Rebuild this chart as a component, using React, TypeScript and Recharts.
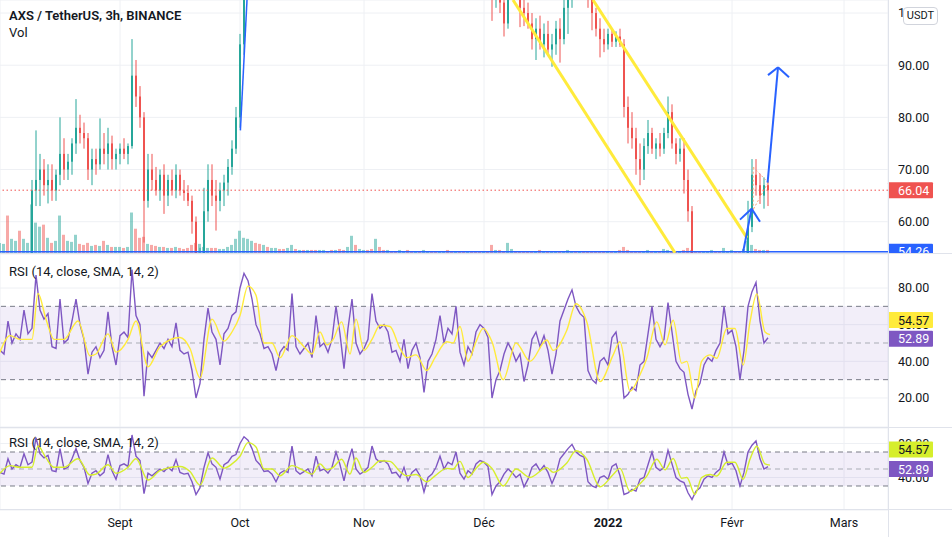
import React from 'react';
import {
  ComposedChart, LineChart, Line, Bar, XAxis, YAxis, CartesianGrid,
  ReferenceLine, ReferenceArea, Cell,
} from 'recharts';

// ---------- data ----------
// [day index (0 = 2 Aug), open, high, low, close] ; daily candles
const candles: [number, number, number, number, number][] = [
  [0,44,47,43,46],[1,46,49,45,48],[2,48,50,46,47],[3,47,50,45,49],[4,49,52,47,51],[5,51,53,48,50],[6,50,53,49,52],[7,52,53.5,50,53],
  [8,52,68,51,66],[9,66,77.5,63,68],[10,68,73,63,70],[11,70,72,65,67],[12,67,71,63.5,68],[13,68,71,64,66],[14,66,70,64,69],[15,69,80,67,73],
  [16,73,76,68,70],[17,70,73,68,71.5],[18,71.5,76,69,75],[19,75,83.5,73,78],[20,78,80.5,75,77],[21,77,79,74,76],[22,76,77,68,70],[23,70,74,67,72],
  [24,72,74,69,71],[25,71,79.8,70,74],[26,74,77,71,73],[27,73,78,70,75],[28,75,76.5,70,72],[29,72,74,70,73],[30,73,75,71,74],[31,74,76,72,73],
  [32,73,75,71,74.5],[33,74.5,95,74,88],[34,88,91,82,84],[35,84,86,78,80],[36,80,81,56,64],[37,64,73,62.7,70],[38,70,73,66,68],[39,68,70.5,65,66],
  [40,66,70,64,69],[41,69,71,61.5,65],[42,65,69,63,68],[43,68,70,65,66],[44,66,71,64.5,69],[45,69,70,65,66],[46,66,68,64,65.5],[47,65.5,67,63,64],
  [48,64,65,57.7,60],[49,60,61,50,52],[50,52,55,49,53],[51,53,66.5,52,62],[52,62,71,60,68],[53,68,71,63,65],[54,65,68,58.3,64],[55,64,67.5,62,66],
  [56,66,69,63,67.5],[57,67.5,72,65,70.5],[58,70.5,75.6,69,74],[59,74,82,73,80],[60,80,96,78,94],[61,94,110,92,108],
  [123,105,108,98.5,103],[124,103,109,101,107],[125,107,110,100,102],[126,102,104,95.5,98],[127,98,108,97,106],[128,106,112,104,110],[129,110,112,103,104],
  [130,104,106,97.3,101],[131,101,103,97.5,100],[132,100,102,97,98],[133,98,100,93,95],[134,95,99,91,97],[135,97,99.5,93,94],[136,94,98,91.5,96],[137,96,98.5,92,93],
  [138,93,96,89.7,94],[139,94,98.5,92,97],[140,97,99,90.5,95],[141,95,103,94,101],[142,101,105,96,103],[143,103,110,101,108],[144,108,112,104,106],
  [145,106,110,103,108],[146,108,111,104,105],[147,105,107,101,103],[148,103,104,96.7,100],[149,100,101,95.5,97],[150,97,99,91.5,95],[151,95,97,92.5,94],
  [152,94,97,93,96],[153,96,97,93.5,94.5],[154,94.5,96.5,93.5,95.5],[155,95.5,97,93.5,94],[156,94,95,80,82],[157,82,84,75,78],[158,78,81,74,76],[159,76,78,69,72],
  [160,72,75,67,70],[161,70,76,68,74.5],[162,74.5,79.5,73,77],[163,77,78,73,74],[164,74,76,72,75],[165,75,77,72.5,74],[166,74,78,73,77],[167,77,84,76,81],
  [168,81,82.5,74,75],[169,75,76,71,73],[170,73,76,71.5,74],[171,74,76,65.4,68],[172,68,70,60,62],[173,62,63,50,52],
  [174,52,53,46,48],[175,48,51,45,47],[176,47,50,44,49],[177,49,52,47,50],[178,50,53,48,51],[179,51,53.5,47,48],[180,48,50,45,46],[181,46,49,44,48],
  [182,48,51,46,50],[183,50,53,48,52],[184,52,53.5,49,50],[185,50,52,47,49],[186,49,53,48,52.5],[187,52.5,64,52,59],[188,59,72,58,69],[189,69,72,65,67],
  [190,67,69.2,63.4,65],[191,65,68.5,62.5,67],[192,67,68,63,66.04],
];

// daily volume (k AXS), index = day
const volumes: number[] = [
  10,9,37,14,12,22,14,10,48,30, 26,28,15,10,12,37,18,12,11,18,
  9,8,10,7,8,7,12,8,6,6, 6,5,6,40,24,15,16,9,8,7,
  6,6,5,5,6,5,4,5,8,10, 9,6,5,5,5,4,4,6,8,14,
  22,15,14,12,10,9,8,6,5,5, 4,4,5,8,4,3,3,3,3,3,
  3,3,2,3,3,4,3,6,17,8, 4,3,3,4,14,6,3,3,2,2,
  3,2,3,2,2,2,3,2,2,2, 2,2,3,2,2,2,2,2,2,2,
  2,2,2,8,3,3,2,10,4,2, 2,2,2,2,2,3,2,2,2,2,
  2,2,3,2,2,2,2,2,2,2, 2,2,2,2,2,3,6,3,2,2,
  2,2,3,2,2,2,4,3,2,2, 2,3,5,3,2,2,2,2,3,2,
  2,5,2,3,2,2,4,12,8,4, 3,3,3,
];
// volume direction for the days whose candles are above the visible range (days 62..122)
const hiddenVolumeDir = 'uudduduudduudududduuddudduuduudduddudduudduduudduudduddudddu';

// RSI(14), index = day
const rsi: number[] = [
  46,44,62,50,55,52,68,55,58,87, 68,63,66,48,47,74,50,52,62,74,
  60,52,33,45,48,42,46,67,48,38, 54,56,53,90,65,60,21,45,42,46,
  50,47,52,48,61,46,44,45,35,20, 28,52,69,56,52,38,55,58,65,67,
  80,88,84,74,60,55,47,48,44,35, 45,48,46,77,48,44,47,50,42,65,
  48,50,45,52,70,55,36,58,74,50, 44,47,52,77,62,58,60,56,45,46,
  40,52,36,46,50,42,23,40,44,52, 65,50,58,55,70,45,38,48,44,56,
  60,58,53,20,30,35,44,50,46,40, 44,29,38,52,56,48,54,46,33,44,
  62,68,74,79,70,66,64,35,30,28, 40,42,38,53,56,42,20,22,26,24,
  38,40,55,70,52,48,52,72,56,40, 36,34,22,14,24,28,38,42,40,46,
  50,70,55,57,48,30,46,70,78,83, 62,50,52.89,
];

// SMA(14) of RSI: [day, value]
const smaPoints: [number, number][] = [
  [0,45],[2.5,54],[5,52],[8,52],[9.5,77],[11.5,63],[13.5,52],[16,52],[19.5,62],[22.5,43],[24,44],[27,55],[29,45],[32,52],[34,62],
  [37,37],[40,48],[45,53],[47.5,47],[50,31],[53,63],[56,51],[58,56],[60,65],[62,81],[64,76],[66,50],[68,50],[70,42],[73,54],[76,48],
  [78,44],[80,56],[81.7,49],[83.3,52],[85.4,61.5],[87.5,44],[89,63],[91,46],[93,52],[95,59.7],[97.5,59],[100,47],[101.7,42],[104,43.5],
  [106.7,35],[108.75,42],[111.7,50.7],[113.3,50],[115,59],[117,40],[119,50.7],[120.8,58],[123,50.7],[125.8,30],[129,50],[132.5,40],
  [136.7,51.6],[138.3,46],[141.7,57],[144,71.4],[146.7,61.5],[150,29],[153.3,43.5],[155,50.7],[157.5,23.7],[160,32.7],[161.7,41.7],
  [164.2,61.5],[166.25,49],[168.3,62.4],[170.4,39],[171.7,40],[173.75,20],[175.4,40],[177.5,43.5],[179.2,41.7],[181.7,57.9],
  [183.75,57.9],[185.8,38],[187.5,61.5],[189.2,76.8],[191.25,56],[192.5,54.57],
];

const monthTicks = [30, 60, 91, 121, 152, 183, 211];
const monthLabels = ['Sept', 'Oct', 'Nov', 'Déc', '2022', 'Févr', 'Mars'];
const priceTicks = [60, 70, 80, 90, 100];
const rsiTicks1 = [20, 40, 60, 80];
const rsiTicks2 = [40, 80];
const lastPrice = 66.04;
const lineLevel = 54.26;
const lastRsi = 52.89;
const lastSma = 54.57;

// drawings (day, price)
const channelUpper: [number, number][] = [[148.25, 102.5], [186.75, 56.9]];
const channelLower: [number, number][] = [[128.25, 102.5], [168.75, 54.04]];
const octLine: [number, number][] = [[60.1, 77.5], [61.75, 102.5]];
const smallArrow: [number, number][] = [[185.8, 54.3], [187.9, 62.5]];
const smallArrowHead: [number, number][] = [[185, 60.4], [187.9, 62.5], [190, 60.0]];
const bigArrow: [number, number][] = [[191.9, 67.5], [194.5, 89.6]];
const bigArrowHead: [number, number][] = [[192, 88.1], [194.5, 89.6], [197.25, 87.7]];
const pennant: [number, number][] = [[188.3, 70.5], [192, 67.5], [188.3, 62.3]];

// ---------- styling ----------
const FONT = "Roboto, 'Noto Sans', sans-serif";
const UP = '#26A69A';
const DOWN = '#EF5350';
const TEXT = '#131722';
const GRID = '#EEF0F4';
const BORDER = '#E0E3EB';
const PURPLE = '#7E57C2';
const YELLOW = '#FFEB3B';
const LIME = '#D6EE2C';
const BLUE = '#2962FF';
const DOMAIN_X: [number, number] = [0, 222];

const candleMap = new Map(candles.map(([d, o, h, l, c]) => [d, { o, h, l, c }]));
const priceData = volumes.map((v, d) => {
  const k = candleMap.get(d);
  const up = k ? k.c >= k.o : hiddenVolumeDir[d - 62] === 'u';
  return k ? { d, ...k, v, up } : { d, v, up };
});
const rsiData = rsi.map((r, d) => ({ d, r }));
const smaData = smaPoints.map(([d, s]) => ({ d, s }));

function CandleShape(props: any) {
  const { x, y, width, height, payload } = props;
  if (!payload || payload.h == null || !isFinite(y) || !isFinite(height)) return null;
  const { o, h, l, c } = payload;
  const k = h - l > 0 ? height / (h - l) : 0;
  const yOf = (p: number) => y + (h - p) * k;
  const color = c >= o ? UP : DOWN;
  const cx = x + width / 2;
  const top = yOf(Math.max(o, c));
  const bot = yOf(Math.min(o, c));
  return (
    <g>
      <line x1={cx} x2={cx} y1={y} y2={y + height} stroke={color} strokeWidth={1} />
      <rect x={x} y={top} width={width} height={Math.max(1, bot - top)} fill={color} />
    </g>
  );
}

function AxisBadge(props: any) {
  const { viewBox, text, bg, color, dy = 0 } = props;
  if (!viewBox) return null;
  const x = viewBox.x + viewBox.width;
  const y = viewBox.y + dy;
  return (
    <g>
      <rect x={x} y={y - 8} width={45} height={16} rx={1} fill={bg} />
      <text x={x + 10} y={y} dominantBaseline="central" fill={color} fontSize={12.5} fontFamily={FONT}>{text}</text>
    </g>
  );
}

function TimeTick(props: any) {
  const { x, y, payload } = props;
  const i = monthTicks.indexOf(payload.value);
  const label = monthLabels[i] ?? '';
  return (
    <text x={x} y={y} dy={17} textAnchor="middle" fill={TEXT} fontSize={12.5} fontFamily={FONT}
      fontWeight={label === '2022' ? 700 : 400}>{label}</text>
  );
}

const seg = (p: [number, number][]) => p.map(([x, y]) => ({ x, y }));
const yTick = { fill: TEXT, fontSize: 12.5, fontFamily: FONT };
const M = { top: 0, right: 0, bottom: 0, left: 0 };

function PriceChart() {
  return (
    <ComposedChart width={952} height={253} data={priceData} margin={M}>
      <CartesianGrid stroke={GRID} />
      <XAxis dataKey="d" type="number" domain={DOMAIN_X} ticks={monthTicks} hide allowDataOverflow />
      <XAxis xAxisId="v" dataKey="d" type="number" domain={DOMAIN_X} hide allowDataOverflow />
      <YAxis orientation="right" width={64} domain={[54.0, 102.5]} ticks={priceTicks} allowDataOverflow
        axisLine={false} tickLine={false} tickSize={6} tickMargin={4} tick={yTick}
        tickFormatter={(v: number) => v.toFixed(2)} />
      <YAxis yAxisId="v" hide domain={[0, 250]} allowDataOverflow />
      <Bar xAxisId="v" yAxisId="v" dataKey="v" barSize={3} isAnimationActive={false}>
        {priceData.map((e) => (
          <Cell key={e.d} fill={e.up ? UP : DOWN} fillOpacity={0.5} />
        ))}
      </Bar>
      <ReferenceLine segment={seg([pennant[0], pennant[1]])} stroke="#F7A27A" strokeDasharray="2 2" ifOverflow="hidden" />
      <ReferenceLine segment={seg([pennant[1], pennant[2]])} stroke="#F7A27A" strokeDasharray="2 2" ifOverflow="hidden" />
      <ReferenceLine segment={seg([pennant[2], pennant[0]])} stroke="#F7A27A" strokeDasharray="2 2" ifOverflow="hidden" />
      <Bar dataKey={(e: any) => (e.h != null ? [e.l, e.h] : null)} barSize={2} shape={<CandleShape />} isAnimationActive={false} />
      <ReferenceLine y={lastPrice} stroke={DOWN} strokeDasharray="1.5 2.5"
        label={<AxisBadge text={lastPrice.toFixed(2)} bg={DOWN} color="#fff" />} />
      <ReferenceLine y={lineLevel} stroke={BLUE} strokeWidth={1.5}
        label={<AxisBadge text={lineLevel.toFixed(2)} bg={BLUE} color="#fff" />} />
      <ReferenceLine segment={seg(channelLower)} stroke={YELLOW} strokeWidth={3} ifOverflow="hidden" />
      <ReferenceLine segment={seg(channelUpper)} stroke={YELLOW} strokeWidth={3} ifOverflow="hidden" />
      <ReferenceLine segment={seg(octLine)} stroke={BLUE} strokeWidth={1.5} ifOverflow="hidden" />
      <ReferenceLine segment={seg(smallArrow)} stroke={BLUE} strokeWidth={2} ifOverflow="hidden" />
      <ReferenceLine segment={seg(smallArrowHead.slice(0, 2))} stroke={BLUE} strokeWidth={2} ifOverflow="hidden" />
      <ReferenceLine segment={seg(smallArrowHead.slice(1, 3))} stroke={BLUE} strokeWidth={2} ifOverflow="hidden" />
      <ReferenceLine segment={seg(bigArrow)} stroke={BLUE} strokeWidth={2} ifOverflow="hidden" />
      <ReferenceLine segment={seg(bigArrowHead.slice(0, 2))} stroke={BLUE} strokeWidth={2} ifOverflow="hidden" />
      <ReferenceLine segment={seg(bigArrowHead.slice(1, 3))} stroke={BLUE} strokeWidth={2} ifOverflow="hidden" />
    </ComposedChart>
  );
}

type PaneProps = { height: number; domain: [number, number]; ticks: number[]; sma: string; smaDy: number; rsiDy: number; showTime?: boolean };

function RsiPane(props: PaneProps) {
  const { height, domain, ticks, sma, showTime } = props;
  return (
    <LineChart width={952} height={height} data={rsiData} margin={M}>
      <CartesianGrid stroke={GRID} />
      <XAxis dataKey="d" type="number" domain={DOMAIN_X} ticks={monthTicks} allowDataOverflow
        hide={!showTime} height={showTime ? 27 : 0} axisLine={false} tickLine={false} tickSize={0} tickMargin={0}
        tick={<TimeTick />} interval={0} />
      <YAxis orientation="right" width={64} domain={domain} ticks={ticks} allowDataOverflow
        axisLine={false} tickLine={false} tickSize={6} tickMargin={4} tick={yTick}
        tickFormatter={(v: number) => v.toFixed(2)} />
      <ReferenceArea y1={30} y2={70} fill={PURPLE} fillOpacity={0.1} stroke="none" />
      <ReferenceLine y={70} stroke="#787B86" strokeDasharray="5 4" />
      <ReferenceLine y={50} stroke="#A9ACB5" strokeDasharray="5 4" />
      <ReferenceLine y={30} stroke="#787B86" strokeDasharray="5 4" />
      <Line dataKey="r" stroke={PURPLE} strokeWidth={1.4} dot={false} isAnimationActive={false} type="linear" />
      <Line data={smaData} dataKey="s" stroke={sma} strokeWidth={1.4} dot={false} isAnimationActive={false} type="monotone" />
    </LineChart>
  );
}

// value badges on the price scale, drawn on top of the tick labels
function RsiBadges(props: PaneProps) {
  const { height, domain, sma, smaDy, rsiDy, showTime } = props;
  return (
    <LineChart width={952} height={height} data={rsiData} margin={M}>
      <XAxis dataKey="d" type="number" domain={DOMAIN_X} hide={!showTime} height={showTime ? 27 : 0}
        tick={false} axisLine={false} tickLine={false} />
      <YAxis orientation="right" width={64} domain={domain} allowDataOverflow tick={false} axisLine={false} tickLine={false} />
      <ReferenceLine y={lastSma} stroke="none"
        label={<AxisBadge text={lastSma.toFixed(2)} bg={sma} color={TEXT} dy={smaDy} />} />
      <ReferenceLine y={lastRsi} stroke="none"
        label={<AxisBadge text={lastRsi.toFixed(2)} bg={PURPLE} color="#fff" dy={rsiDy} />} />
    </LineChart>
  );
}

const titleStyle: React.CSSProperties = {
  position: 'absolute', left: 9, fontSize: 13, color: TEXT, fontFamily: FONT, lineHeight: '16px', whiteSpace: 'nowrap',
};

const pane1: PaneProps = { height: 173, domain: [4.18, 98.55], ticks: rsiTicks1, sma: YELLOW, smaDy: -14.6, rsiDy: 1 };
const pane2: PaneProps = { height: 109, domain: [1.76, 98.24], ticks: rsiTicks2, sma: LIME, smaDy: -15.6, rsiDy: 2.5, showTime: true };

export default function App() {
  return (
    <div style={{ position: 'absolute', left: 0, top: 0, width: 952, height: 537, background: '#fff', overflow: 'hidden', fontFamily: FONT }}>
      <div style={{ position: 'absolute', left: 0, top: 0 }}><PriceChart /></div>
      <div style={{ position: 'absolute', left: 0, top: 254 }}><RsiPane {...pane1} /></div>
      <div style={{ position: 'absolute', left: 0, top: 428 }}><RsiPane {...pane2} /></div>
      <div style={{ position: 'absolute', left: 0, top: 254 }}><RsiBadges {...pane1} /></div>
      <div style={{ position: 'absolute', left: 0, top: 428 }}><RsiBadges {...pane2} /></div>
      {/* separators */}
      <div style={{ position: 'absolute', left: 0, top: 253, width: 952, height: 1, background: BORDER }} />
      <div style={{ position: 'absolute', left: 0, top: 427, width: 952, height: 1, background: BORDER }} />
      <div style={{ position: 'absolute', left: 0, top: 509, width: 952, height: 1, background: BORDER }} />
      <div style={{ position: 'absolute', left: 888, top: 0, width: 1, height: 537, background: BORDER }} />
      {/* legends */}
      <div style={{ ...titleStyle, top: 8, fontWeight: 600 }}>AXS / TetherUS, 3h, BINANCE</div>
      <div style={{ ...titleStyle, top: 25 }}>Vol</div>
      <div style={{ ...titleStyle, top: 264 }}>RSI (14, close, SMA, 14, 2)</div>
      <div style={{ ...titleStyle, top: 435 }}>RSI (14, close, SMA, 14, 2)</div>
      <div style={{
        position: 'absolute', left: 903, top: 7, width: 33, height: 16, border: '1px solid #D1D4DC', borderRadius: 4,
        background: '#fff', fontSize: 11, lineHeight: '16px', textAlign: 'center', color: TEXT, fontFamily: FONT,
      }}>USDT</div>
    </div>
  );
}
